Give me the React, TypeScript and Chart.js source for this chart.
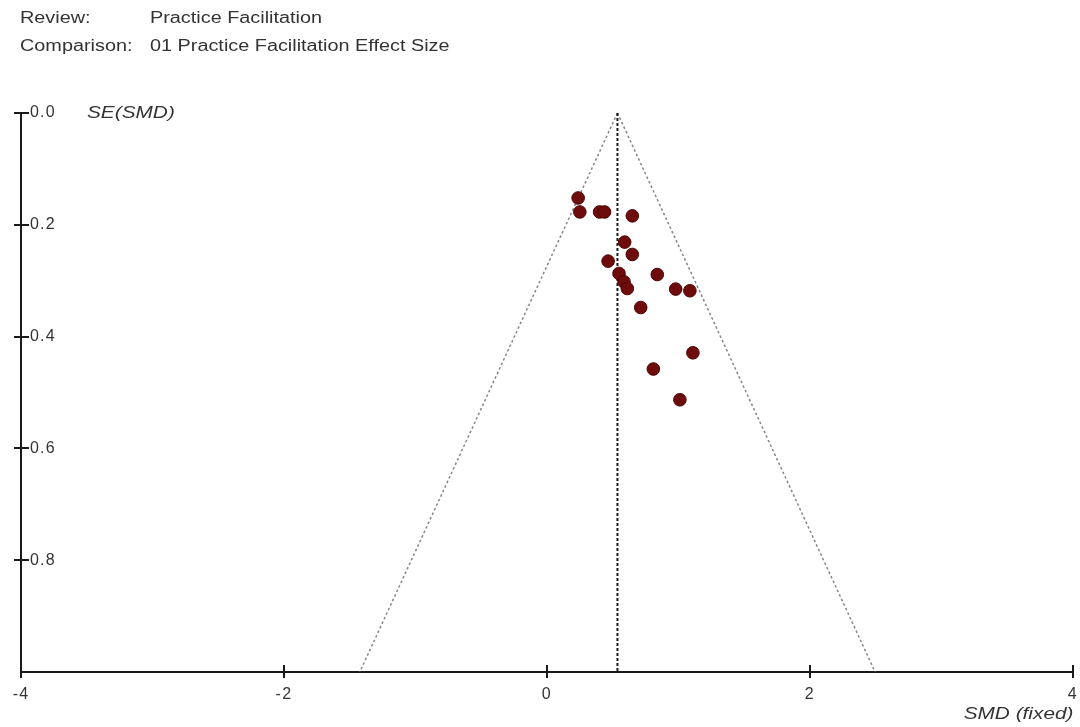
import React, { useEffect, useRef } from 'react';
import { Chart, registerables } from 'chart.js';

Chart.register(...registerables);

// Study effect sizes (SMD) and their standard errors
const smdValues = [0.238, 0.251, 0.401, 0.439, 0.650, 0.592, 0.650, 0.466, 0.549, 0.587, 0.612, 0.840, 0.980, 1.088, 0.714, 1.111, 0.810, 1.012];
const seValues = [0.152, 0.177, 0.177, 0.177, 0.184, 0.231, 0.253, 0.265, 0.287, 0.302, 0.314, 0.289, 0.315, 0.318, 0.348, 0.429, 0.458, 0.513];

// Pooled (fixed effect) estimate and funnel depth
const pooledSMD = 0.537;
const seMax = 1.0;
const zCrit = 1.96;

// Axis ticks
const xTicks = [-4, -2, 0, 2, 4];
const yTicks = [0, 0.2, 0.4, 0.6, 0.8];

const FONT = "'Liberation Sans', Arial, Helvetica, sans-serif";

const crossTicks = {
  id: 'crossTicks',
  beforeDraw(chart: any) {
    (chart.ctx as any).letterSpacing = '1.2px';
  },
  afterDraw(chart: any) {
    const { ctx, scales, chartArea } = chart;
    const x = scales.x;
    const y = scales.y;
    ctx.save();
    ctx.strokeStyle = '#1a1a1a';
    ctx.lineWidth = 2;
    x.ticks.forEach((t: any) => {
      const px = Math.round(x.getPixelForValue(t.value));
      ctx.beginPath();
      ctx.moveTo(px, chartArea.bottom - 7);
      ctx.lineTo(px, chartArea.bottom + 6);
      ctx.stroke();
    });
    y.ticks.forEach((t: any) => {
      const py = Math.round(y.getPixelForValue(t.value));
      ctx.beginPath();
      ctx.moveTo(chartArea.left - 7, py);
      ctx.lineTo(chartArea.left + 8, py);
      ctx.stroke();
    });
    ctx.restore();
    (ctx as any).letterSpacing = '0px';
  },
};

export default function App() {
  const canvasRef = useRef<HTMLCanvasElement | null>(null);

  useEffect(() => {
    if (!canvasRef.current) return;
    const points = smdValues.map((v, i) => ({ x: v, y: seValues[i] }));
    const centerLine = [
      { x: pooledSMD, y: 0 },
      { x: pooledSMD, y: seMax },
    ];
    const leftLine = [
      { x: pooledSMD, y: 0 },
      { x: pooledSMD - zCrit * seMax, y: seMax },
    ];
    const rightLine = [
      { x: pooledSMD, y: 0 },
      { x: pooledSMD + zCrit * seMax, y: seMax },
    ];

    const chart = new Chart(canvasRef.current, {
      type: 'scatter',
      data: {
        datasets: [
          {
            data: points,
            pointRadius: 6.3,
            pointBackgroundColor: '#6e0c0c',
            pointBorderColor: '#4d0404',
            pointBorderWidth: 1,
            showLine: false,
            clip: false,
          } as any,
          {
            data: centerLine,
            showLine: true,
            pointRadius: 0,
            borderColor: '#1e1e1e',
            borderWidth: 2,
            borderDash: [3, 2],
            clip: false,
          },
          {
            data: leftLine,
            showLine: true,
            pointRadius: 0,
            borderColor: '#858585',
            borderWidth: 1.5,
            borderDash: [2.5, 2.5],
            clip: false,
          },
          {
            data: rightLine,
            showLine: true,
            pointRadius: 0,
            borderColor: '#858585',
            borderWidth: 1.5,
            borderDash: [2.5, 2.5],
            clip: false,
          },
        ],
      },
      options: {
        animation: false,
        responsive: false,
        devicePixelRatio: 1,
        events: [],
        layout: { padding: { left: 21, top: 113, right: 7, bottom: 0 } },
        plugins: {
          legend: { display: false },
          tooltip: { enabled: false },
          title: { display: false },
        },
        scales: {
          x: {
            type: 'linear',
            position: 'bottom',
            min: -4,
            max: 4,
            afterFit: (s: any) => {
              s.height = 55;
              s.paddingLeft = 0;
              s.paddingRight = 0;
            },
            afterBuildTicks: (s: any) => {
              s.ticks = xTicks.map((v) => ({ value: v }));
            },
            grid: { display: false, drawTicks: false },
            border: { display: true, color: '#1a1a1a', width: 2 },
            ticks: {
              autoSkip: false,
              maxRotation: 0,
              padding: 13,
              color: '#333',
              font: { family: FONT, size: 16 },
              callback: (v: any) => String(v),
            },
          },
          y: {
            type: 'linear',
            position: 'left',
            reverse: true,
            min: 0,
            max: seMax,
            afterFit: (s: any) => {
              s.width = 0;
            },
            afterBuildTicks: (s: any) => {
              s.ticks = yTicks.map((v) => ({ value: v }));
            },
            grid: { display: false, drawTicks: false },
            border: { display: true, color: '#1a1a1a', width: 2 },
            ticks: {
              mirror: true,
              padding: 9,
              color: '#333',
              font: { family: FONT, size: 16 },
              callback: (v: any) => Number(v).toFixed(1),
            },
          },
        },
      } as any,
      plugins: [crossTicks],
    });
    return () => chart.destroy();
  }, []);

  const headStyle: React.CSSProperties = {
    position: 'absolute',
    fontFamily: FONT,
    fontSize: 16,
    lineHeight: '20px',
    color: '#333',
    whiteSpace: 'nowrap',
    transform: 'scaleX(1.24)',
    transformOrigin: 'left center',
  };

  const axisTitle: React.CSSProperties = {
    position: 'absolute',
    fontFamily: FONT,
    fontStyle: 'italic',
    fontSize: 16,
    lineHeight: '18px',
    color: '#333',
    whiteSpace: 'nowrap',
    transform: 'scaleX(1.3)',
  };

  return (
    <div
      style={{
        position: 'absolute',
        left: 0,
        top: 0,
        width: 1080,
        height: 727,
        background: '#fff',
        overflow: 'hidden',
      }}
    >
      <canvas ref={canvasRef} width={1080} height={727} style={{ position: 'absolute', left: 0, top: 0 }} />
      <div style={{ ...headStyle, left: 20, top: 8 }}>Review:</div>
      <div style={{ ...headStyle, left: 150, top: 8 }}>Practice Facilitation</div>
      <div style={{ ...headStyle, left: 20, top: 36 }}>Comparison:</div>
      <div style={{ ...headStyle, left: 150, top: 36 }}>01 Practice Facilitation Effect Size</div>
      <div style={{ ...axisTitle, left: 87, top: 104, transformOrigin: 'left center' }}>SE(SMD)</div>
      <div style={{ ...axisTitle, right: 7, top: 705, textAlign: 'right', transformOrigin: 'right center' }}>
        SMD (fixed)
      </div>
    </div>
  );
}
